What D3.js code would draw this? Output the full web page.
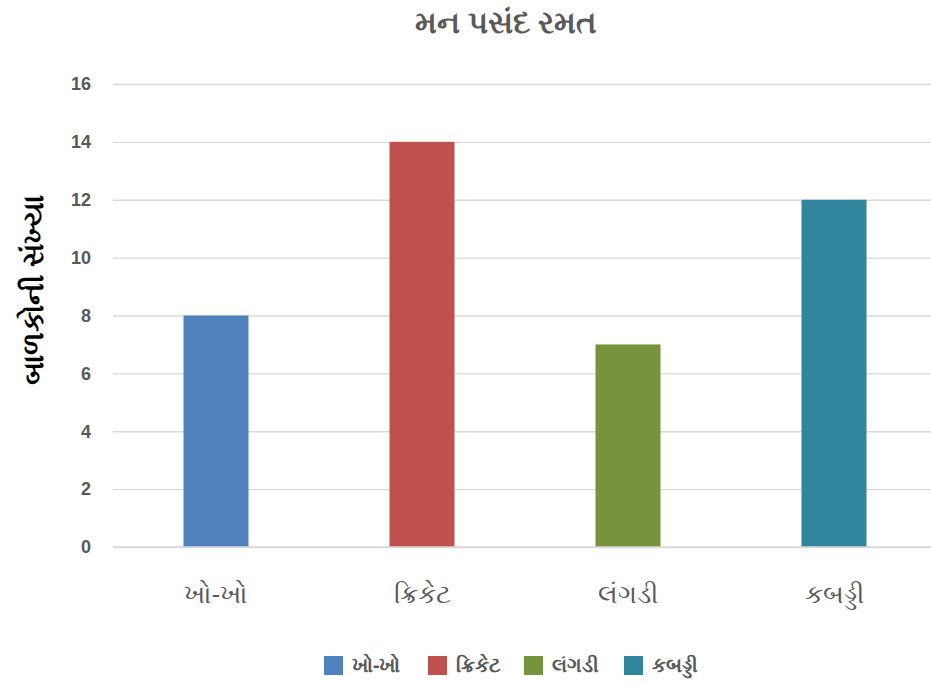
<!DOCTYPE html>
<html>
<head>
<meta charset="utf-8">
<script src="https://cdn.jsdelivr.net/npm/d3@7"></script>
<style>
  html, body { margin: 0; padding: 0; background: #fff; }
  svg { display: block; font-family: "Noto Sans", "Open Sans", sans-serif; }
</style>
</head>
<body>
<svg id="chart" width="931" height="684"></svg>
<script>
const title = "મન પસંદ રમત";
const yAxisTitle = "બાળકોની સંખ્યા";
const categories = ["ખો-ખો", "ક્રિકેટ", "લંગડી", "કબડ્ડી"];
const values = [8, 14, 7, 12];
const yTicks = [0, 2, 4, 6, 8, 10, 12, 14, 16];

const palette = ["#4F81BD", "#C0504D", "#77933C", "#31859C"];

const svg = d3.select("#chart");
const plot = { left: 113, right: 937, top: 84, bottom: 547 };

const x = d3.scaleBand().domain(categories).range([plot.left, plot.right]).paddingInner(0).paddingOuter(0);
const y = d3.scaleLinear().domain([0, 16]).range([plot.bottom, plot.top]);
const barW = 65;

// gridlines
const yAxis = d3.axisLeft(y).tickValues(yTicks).tickSize(-(plot.right - plot.left)).tickPadding(22).tickFormat(d3.format("d"));
const gy = svg.append("g").attr("transform", `translate(${plot.left},0)`).call(yAxis);
gy.select(".domain").remove();
gy.selectAll(".tick line").attr("stroke", "#d9d9d9").attr("stroke-width", 1.3);
gy.selectAll(".tick text").attr("fill", "#595959").attr("font-size", 18).attr("font-weight", "bold");

// bars
svg.append("g").selectAll("rect").data(values).join("rect")
  .attr("x", (d, i) => x(categories[i]) + x.bandwidth() / 2 - barW / 2)
  .attr("width", barW)
  .attr("y", d => y(d))
  .attr("height", d => y(0) - y(d))
  .attr("fill", (d, i) => palette[i]);

// baseline
svg.append("line").attr("x1", plot.left).attr("x2", plot.right).attr("y1", y(0)).attr("y2", y(0))
  .attr("stroke", "#d9d9d9").attr("stroke-width", 1.3);

// x labels
const xAxis = d3.axisBottom(x).tickSize(0).tickPadding(38);
const gx = svg.append("g").attr("transform", `translate(0,${plot.bottom})`).call(xAxis);
gx.select(".domain").remove();
gx.selectAll(".tick text").attr("fill", "#595959").attr("font-size", 26).attr("font-family", "'Noto Sans', sans-serif");

// title
svg.append("text").attr("x", 506).attr("y", 33).attr("text-anchor", "middle")
  .attr("fill", "#595959").attr("font-size", 31).attr("font-weight", "bold").text(title);

// y axis title
svg.append("text").attr("transform", "translate(43,290) rotate(-90)").attr("text-anchor", "middle")
  .attr("fill", "#000").attr("font-size", 29).attr("font-weight", "bold").text(yAxisTitle);

// legend
const legendX = [324, 428, 524, 624];
const lg = svg.append("g").selectAll("g").data(categories).join("g")
  .attr("transform", (d, i) => `translate(${legendX[i]},656)`);
lg.append("rect").attr("width", 19).attr("height", 19).attr("fill", (d, i) => palette[i]);
lg.append("text").attr("x", 28).attr("y", 16).attr("fill", "#595959").attr("font-size", 20).attr("font-weight", "bold").text(d => d);
</script>
</body>
</html>
